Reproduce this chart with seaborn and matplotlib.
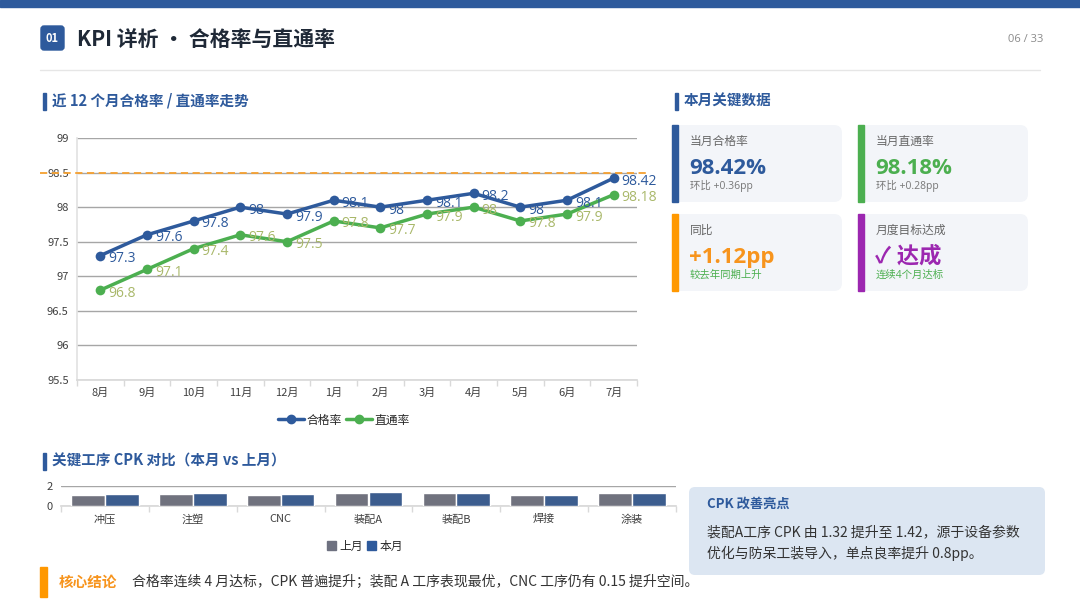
import matplotlib
matplotlib.use('Agg')
import matplotlib.pyplot as plt
import seaborn as sns
import pandas as pd
from matplotlib.patches import FancyBboxPatch, Rectangle, Patch
from matplotlib.lines import Line2D

# 数据
months = ['8月', '9月', '10月', '11月', '12月', '1月', '2月', '3月', '4月', '5月', '6月', '7月']
pass_rate = [97.3, 97.6, 97.8, 98.0, 97.9, 98.1, 98.0, 98.1, 98.2, 98.0, 98.1, 98.42]
fpy_rate = [96.8, 97.1, 97.4, 97.6, 97.5, 97.8, 97.7, 97.9, 98.0, 97.8, 97.9, 98.18]
target = 98.5

processes = ['冲压', '注塑', 'CNC', '装配A', '装配B', '焊接', '涂装']
cpk_last = [1.08, 1.24, 1.14, 1.32, 1.26, 1.10, 1.26]
cpk_this = [1.16, 1.32, 1.22, 1.42, 1.34, 1.15, 1.35]

BLUE = '#2E5A9C'
GREEN = '#4CAF50'
ORANGE = '#F7941D'
PURPLE = '#9C27B0'
GRAY_BAR = '#6E7180'
NUM_FONT = ['Open Sans', 'Noto Sans CJK SC', 'DejaVu Sans']

sns.set_theme(style='white')
plt.rcParams['font.family'] = ['Noto Sans CJK SC', 'DejaVu Sans']

fig = plt.figure(figsize=(10.8, 6.08), dpi=100)

# 背景层，像素坐标
bg = fig.add_axes([0, 0, 1, 1])
bg.set_xlim(0, 1080)
bg.set_ylim(608, 0)
bg.axis('off')

bg.add_patch(Rectangle((0, 0), 1080, 7, color=BLUE))
bg.add_patch(FancyBboxPatch((41, 26), 23, 24, boxstyle='round,pad=0,rounding_size=3', color=BLUE))
bg.text(52.5, 38.5, '01', color='white', fontsize=8, fontweight='bold', ha='center', va='center')
bg.text(77, 40, 'KPI 详析 • 合格率与直通率', fontsize=15, fontweight='bold', color='#1F2937', va='center')
bg.text(1043, 40, '06 / 33', fontsize=8, color='#8A8A8A', ha='right', va='center', family=NUM_FONT)
bg.plot([40, 1040], [70, 70], color='#E6E6E6', lw=1)

# 小标题
for x, y, t in [(43, 101, '近 12 个月合格率 / 直通率走势'), (675, 101, '本月关键数据'),
                (43, 461, '关键工序 CPK 对比（本月 vs 上月）')]:
    bg.add_patch(Rectangle((x, y - 8), 2.5, 17, color=BLUE))
    bg.text(x + 9, y, t, fontsize=10.5, fontweight='bold', color=BLUE, va='center')

# KPI 卡片
def card(x, y, color, label, value, sub, sub_color, value_color=None):
    bg.add_patch(FancyBboxPatch((x, y), 170, 77, boxstyle='round,pad=0,rounding_size=8',
                                fc='#F3F5F9', ec='none'))
    bg.add_patch(Rectangle((x, y), 5.5, 77, color=color))
    bg.text(x + 18, y + 16, label, fontsize=8.5, color='#666666', va='center')
    bg.text(x + 17, y + 43, value, fontsize=16, fontweight='bold', color=value_color or color,
            va='center', family=NUM_FONT)
    bg.text(x + 18, y + 61, sub, fontsize=7.5, color=sub_color, va='center', family=NUM_FONT)

card(672, 125, BLUE, '当月合格率', '98.42%', '环比 +0.36pp', '#777777')
card(858, 125, GREEN, '当月直通率', '98.18%', '环比 +0.28pp', '#777777')
card(672, 214, '#FF9800', '同比', '+1.12pp', '较去年同期上升', GREEN, ORANGE)
card(858, 214, PURPLE, '月度目标达成', '✓ 达成', '连续4个月达标', GREEN)

# CPK 改善亮点
bg.add_patch(FancyBboxPatch((689, 487), 356, 88, boxstyle='round,pad=0,rounding_size=6',
                            fc='#DCE6F2', ec='none'))
bg.text(707, 504, 'CPK 改善亮点', fontsize=9.5, fontweight='bold', color=BLUE, va='center')
bg.text(707, 532, '装配A工序 CPK 由 1.32 提升至 1.42，源于设备参数', fontsize=10, color='#333333', va='center')
bg.text(707, 553, '优化与防呆工装导入，单点良率提升 0.8pp。', fontsize=10, color='#333333', va='center')

# 核心结论
bg.add_patch(Rectangle((40, 567), 7, 30, color='#FF9800'))
bg.text(59, 582, '核心结论', fontsize=10.5, fontweight='bold', color=ORANGE, va='center')
bg.text(132, 582, '合格率连续 4 月达标，CPK 普遍提升；装配 A 工序表现最优，CNC 工序仍有 0.15 提升空间。',
        fontsize=10, color='#333333', va='center')

# 折线图
ax = fig.add_axes([77 / 1080, 1 - 380 / 608, 560 / 1080, 242 / 608])
ax.set_facecolor('none')
idx = list(range(len(months)))
df_line = pd.DataFrame({'idx': idx, '合格率': pass_rate, '直通率': fpy_rate})
sns.lineplot(data=df_line, x='idx', y='合格率', ax=ax, color=BLUE, lw=2.5, marker='o',
             markersize=7, markeredgewidth=0, zorder=4)
sns.lineplot(data=df_line, x='idx', y='直通率', ax=ax, color=GREEN, lw=2.5, marker='o',
             markersize=7, markeredgewidth=0, zorder=4)
for i, v in enumerate(pass_rate):
    ax.annotate(f'{v:g}', (i, v), xytext=(8, -3), textcoords='offset pixels',
                ha='left', va='center', fontsize=10, color=BLUE, zorder=5, family=NUM_FONT)
for i, v in enumerate(fpy_rate):
    ax.annotate(f'{v:g}', (i, v), xytext=(8, -3), textcoords='offset pixels',
                ha='left', va='center', fontsize=10, color='#A9B86A', zorder=5, family=NUM_FONT)
ax.axhline(target, xmin=-0.066, xmax=1.02, color='#F5A030', lw=1.3, ls=(0, (4, 2.5)),
           clip_on=False, zorder=3)
ax.set_xlim(-0.5, 11.5)
ax.set_ylim(95.5, 99)
ax.set_yticks([95.5, 96, 96.5, 97, 97.5, 98, 98.5, 99])
ax.set_yticklabels(['95.5', '96', '96.5', '97', '97.5', '98', '98.5', '99'])
ax.set_xticks(idx)
ax.set_xticklabels(months)
ax.set_xticks([i - 0.5 for i in range(13)], minor=True)
ax.grid(axis='y', color='#A6A6A6', lw=1)
ax.tick_params(axis='both', which='major', labelsize=8, labelcolor='#404040', length=0, pad=6)
ax.tick_params(axis='x', which='minor', length=4, color='#D9D9D9', width=1, bottom=True)
ax.set_xlabel('')
ax.set_ylabel('')
for s in ['top', 'right']:
    ax.spines[s].set_visible(False)
ax.spines['left'].set_color('#E3E3E3')
ax.spines['bottom'].set_color('#D9D9D9')

line_handles = [Line2D([0], [0], color=BLUE, lw=2.5, marker='o', markersize=6),
                Line2D([0], [0], color=GREEN, lw=2.5, marker='o', markersize=6)]
fig.legend(line_handles, ['合格率', '直通率'], loc='center', bbox_to_anchor=(344 / 1080, 1 - 420 / 608),
           ncol=2, frameon=False, fontsize=8.5, handlelength=2.2, handletextpad=0.2, columnspacing=0.4)

# CPK 柱状图
ax2 = fig.add_axes([61 / 1080, 1 - 506 / 608, 615 / 1080, 20 / 608])
ax2.set_facecolor('none')
df_cpk = pd.DataFrame({'工序': processes * 2, 'CPK': cpk_last + cpk_this,
                       '月份': ['上月'] * len(processes) + ['本月'] * len(processes)})
sns.barplot(data=df_cpk, x='工序', y='CPK', hue='月份', hue_order=['上月', '本月'],
            palette=[GRAY_BAR, BLUE], width=0.77, ax=ax2, legend=False, zorder=3)
ax2.set_xlim(-0.5, 6.5)
ax2.set_ylim(0, 2)
ax2.set_yticks([0, 2])
ax2.set_yticklabels(['0', '2'])
ax2.set_xticks([i - 0.5 for i in range(8)], minor=True)
ax2.grid(axis='y', color='#A6A6A6', lw=1)
ax2.tick_params(axis='both', which='major', labelsize=8, labelcolor='#404040', length=0, pad=6)
ax2.tick_params(axis='x', which='minor', length=4, color='#D9D9D9', width=1, bottom=True)
ax2.set_xlabel('')
ax2.set_ylabel('')
for s in ['top', 'right', 'left']:
    ax2.spines[s].set_visible(False)
ax2.spines['bottom'].set_color('#D9D9D9')

bar_handles = [Patch(color=GRAY_BAR), Patch(color=BLUE)]
fig.legend(bar_handles, ['上月', '本月'], loc='center', bbox_to_anchor=(365 / 1080, 1 - 546 / 608),
           ncol=2, frameon=False, fontsize=8.5, handlelength=0.7, handleheight=0.7,
           handletextpad=0.3, columnspacing=0.4)

fig.savefig('out.png', dpi=100, facecolor='white')
